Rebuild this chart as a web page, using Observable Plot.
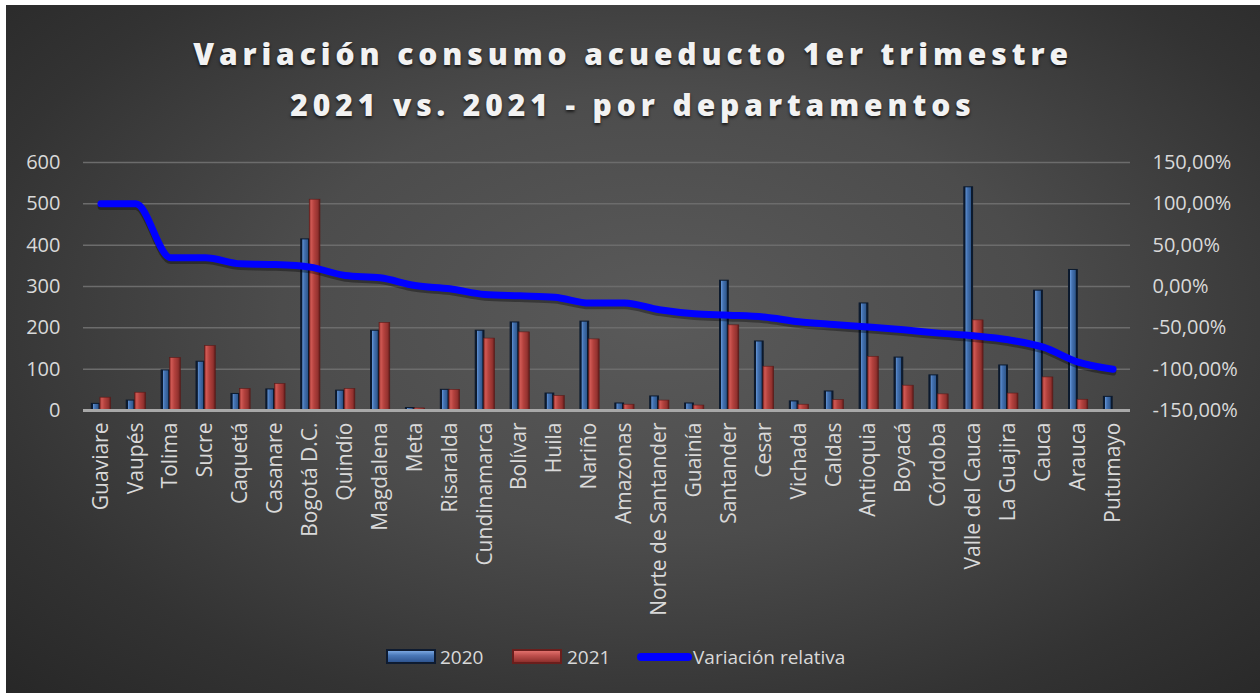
<!DOCTYPE html>
<html>
<head>
<meta charset="utf-8">
<script src="https://cdn.jsdelivr.net/npm/d3@7"></script>
<script src="https://cdn.jsdelivr.net/npm/@observablehq/plot@0.6"></script>
<style>
  html, body { margin: 0; padding: 0; background: #ffffff; width: 1260px; height: 693px; overflow: hidden; }
  #chart {
    position: absolute; left: 6px; top: 5px; width: 1254px; height: 688px; overflow: hidden;
    background: radial-gradient(ellipse 75% 80% at 52% 45%, #5a5a5a 0%, #4c4c4c 40%, #333333 75%, #262626 100%);
    font-family: "Open Sans", sans-serif; color: #d9d9d9;
  }
  #title {
    position: absolute; left: 0; top: 24px; width: 1254px; text-align: center;
    font-size: 30px; font-weight: 800; line-height: 50.5px; letter-spacing: 4.9px;
    color: #f2f2f2; text-shadow: 0 2px 3px rgba(0,0,0,0.65);
  }
  #plot { position: absolute; left: 0; top: 125px; }
  .lg { position: absolute; font-size: 19px; line-height: 20px; color: #d9d9d9; }
  .sw { position: absolute; height: 15px; width: 50px; box-sizing: border-box; }
</style>
</head>
<body>
<div id="chart">
  <div id="title">Variación consumo acueducto 1er trimestre<br>2021 vs. 2021 - por departamentos</div>
  <div id="plot"></div>
  <div class="sw" style="left:380px; top:644px; border:2px solid #0e1b30; background:linear-gradient(#7aa6e0,#4a78b8 40%,#2f5590);"></div>
  <div class="lg" style="left:434px; top:642px;">2020</div>
  <div class="sw" style="left:506px; top:644px; border:2px solid #6a1e1c; background:linear-gradient(#e0706c,#c0504d 40%,#8e302d);"></div>
  <div class="lg" style="left:561px; top:642px;">2021</div>
  <div style="position:absolute; left:631px; top:648px; width:55px; height:8px; border-radius:4px; background:#0000ff;"></div>
  <div class="lg" style="left:687px; top:642px;">Variación relativa</div>
</div>
<script>
const departamentos = ["Guaviare","Vaupés","Tolima","Sucre","Caquetá","Casanare","Bogotá D.C.","Quindío","Magdalena","Meta","Risaralda","Cundinamarca","Bolívar","Huila","Nariño","Amazonas","Norte de Santander","Guainía","Santander","Cesar","Vichada","Caldas","Antioquia","Boyacá","Córdoba","Valle del Cauca","La Guajira","Cauca","Arauca","Putumayo"];
const consumo2020 = [16,24,97,118,40,51,414,48,193,6,50,193,213,41,215,17,34,17,314,167,22,46,259,128,85,540,109,290,340,33];
const consumo2021 = [31,43,127,156,52,64,510,52,212,5,50,174,189,35,172,14,24,12,206,106,14,25,130,60,39,218,41,80,26,0];
const variacionRelativa = [100,100,34.7,34.7,27.4,26.6,23.4,13.3,10.5,1.2,-2.8,-9.7,-11.3,-12.9,-20,-20,-28.2,-33,-34.7,-37,-42.7,-46,-49,-52.4,-56.4,-59.7,-64.5,-73.4,-91.5,-100];
const leftTicks = [0,100,200,300,400,500,600];
const rightTicks = [-150,-100,-50,0,50,100,150];

const rows = departamentos.map((d, i) => ({dep: d, v2020: consumo2020[i], v2021: consumo2021[i], varRel: variacionRelativa[i]}));
// map percent onto the left (0-600) scale: -150% -> 0, 150% -> 600
const pctToY = p => (p + 150) * 2;
const yToPct = y => y / 2 - 150;

const defs = () => {
  const g = d3.create("svg:defs");
  const blue = g.append("linearGradient").attr("id", "gBlue").attr("x1", "0").attr("x2", "1").attr("y1", "0").attr("y2", "0");
  [["0%","#0c1a2e"],["16%","#0c1a2e"],["22%","#5f90d2"],["40%","#4573b3"],["78%","#30598f"],["86%","#0c1a2e"],["100%","#0c1a2e"]]
    .forEach(([o,c]) => blue.append("stop").attr("offset", o).attr("stop-color", c));
  const red = g.append("linearGradient").attr("id", "gRed").attr("x1", "0").attr("x2", "1").attr("y1", "0").attr("y2", "0");
  [["0%","#8c2c29"],["18%","#cf5853"],["45%","#b3413d"],["80%","#93322f"],["100%","#5c1a18"]]
    .forEach(([o,c]) => red.append("stop").attr("offset", o).attr("stop-color", c));
  return g.node();
};

const chart = Plot.plot({
  width: 1254,
  height: 490,
  marginTop: 32,
  marginBottom: 210,
  marginLeft: 77,
  marginRight: 130,
  style: {background: "transparent", fontFamily: "Open Sans, sans-serif", color: "#d9d9d9", overflow: "visible"},
  x: {type: "band", domain: departamentos, paddingInner: 0.42, paddingOuter: 0.21, round: false, label: null},
  y: {domain: [0, 600], label: null},
  marks: [
    defs,
    Plot.gridY(leftTicks.slice(1), {stroke: "#6c6c6c", strokeOpacity: 1, strokeWidth: 1.5}),
    Plot.barY(rows, {x: "dep", y: "v2020", fill: "url(#gBlue)", stroke: "#0c1a2e", strokeWidth: 1, insetLeft: 1, insetRight: 10.5}),
    Plot.barY(rows, {x: "dep", y: "v2021", fill: "url(#gRed)", stroke: "#5c1a18", strokeWidth: 0.6, insetLeft: 9.5, insetRight: 0}),
    Plot.ruleY([0], {stroke: "#a8a8a8", strokeWidth: 3}),
    Plot.line(rows, {x: "dep", y: d => pctToY(d.varRel), stroke: "#000000", strokeOpacity: 0.35, strokeWidth: 6.5, dy: 3, curve: "monotone-x"}),
    Plot.line(rows, {x: "dep", y: d => pctToY(d.varRel), stroke: "#0000ff", strokeWidth: 7, curve: "monotone-x"}),
    Plot.axisX({tickRotate: -90, tickSize: 0, tickPadding: 12, fontSize: 21, fill: "#d9d9d9", label: null}),
    Plot.axisY({ticks: leftTicks, tickSize: 0, tickPadding: 23, fontSize: 20, fill: "#d9d9d9", label: null}),
    Plot.axisY({anchor: "right", ticks: rightTicks.map(pctToY), tickFormat: v => yToPct(v).toFixed(2).replace(".", ",") + "%", tickSize: 0, tickPadding: 22, fontSize: 20, fill: "#d9d9d9", label: null})
  ]
});
document.getElementById("plot").appendChild(chart);
</script>
</body>
</html>
